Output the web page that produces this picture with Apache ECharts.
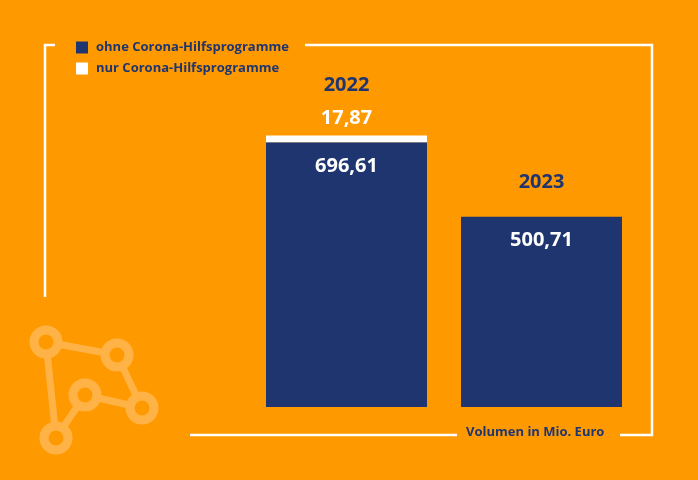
<!DOCTYPE html><html><head><meta charset="utf-8"><script src="https://cdn.jsdelivr.net/npm/echarts@6/dist/echarts.min.js"></script>
<style>html,body{margin:0;background:#FF9900}#c{width:698px;height:480px}</style></head><body><div id="c"></div><script>
const years=['2022','2023'];
const ohne=[696.61,500.71];
const nur=[17.87,0];
const seriesNames=['ohne Corona-Hilfsprogramme','nur Corona-Hilfsprogramme'];
const unitLabel='Volumen in Mio. Euro';
const fmt=v=>v.toFixed(2).replace('.',',');
const dark='#1F3570', W='#FFFFFF', ic='#FFB347';
const ch=echarts.init(document.getElementById('c'));
const circ=(x,y)=>({type:'circle',shape:{cx:x,cy:y,r:12},style:{fill:'#FF9900',stroke:ic,lineWidth:9},z:2});
const ln=(a,b)=>({type:'line',shape:{x1:a[0],y1:a[1],x2:b[0],y2:b[1]},style:{stroke:ic,lineWidth:7},z:1});
const P=[[46,342],[117,355],[85,395],[142,408],[56,438]];
ch.setOption({
 backgroundColor:'#FF9900',animation:false,
 grid:{left:249,width:390,top:103,height:304},
 xAxis:{type:'category',data:years,show:false},
 yAxis:{type:'value',min:0,max:800,show:false},
 legend:{left:71,top:36,orient:'vertical',itemWidth:12,itemHeight:12,itemGap:8,icon:'rect',
  textStyle:{color:dark,fontSize:13,fontWeight:'bold',fontFamily:'Open Sans',padding:[0,0,0,3]},data:seriesNames},
 series:[
  {name:seriesNames[0],type:'bar',stack:'a',barWidth:161,data:ohne,itemStyle:{color:dark},
   label:{show:true,position:'insideTop',distance:14,color:W,fontSize:20,fontWeight:'bold',fontFamily:'Open Sans',formatter:p=>fmt(p.value)}},
  {name:seriesNames[1],type:'bar',stack:'a',barWidth:161,data:nur,itemStyle:{color:W},
   label:{show:true,position:'top',distance:4,fontFamily:'Open Sans',
    formatter:p=>p.value>0?'{y|'+p.name+'}\n{v|'+fmt(p.value)+'}':'{y|'+p.name+'}\n{e|}',
    rich:{y:{color:dark,fontSize:20,fontWeight:'bold',lineHeight:40},v:{color:W,fontSize:20,fontWeight:'bold',lineHeight:26},e:{lineHeight:10,fontSize:8}}}}
 ],
 graphic:[
  {type:'polyline',shape:{points:[[55,45],[45,45],[45,297]]},style:{stroke:W,lineWidth:2.5,fill:'none'}},
  {type:'polyline',shape:{points:[[305,45],[652,45],[652,435],[620,435]]},style:{stroke:W,lineWidth:2.5,fill:'none'}},
  {type:'line',shape:{x1:190,y1:435,x2:457,y2:435},style:{stroke:W,lineWidth:2.5}},
  {type:'text',left:466,top:426,style:{text:unitLabel,fill:dark,fontSize:13,fontWeight:'bold',fontFamily:'Open Sans'}},
  ln(P[0],P[1]),ln(P[0],P[4]),ln(P[1],P[3]),ln(P[2],P[3]),ln(P[2],P[4]),
  ...P.map(p=>circ(p[0],p[1]))
 ]
});
</script></body></html>
